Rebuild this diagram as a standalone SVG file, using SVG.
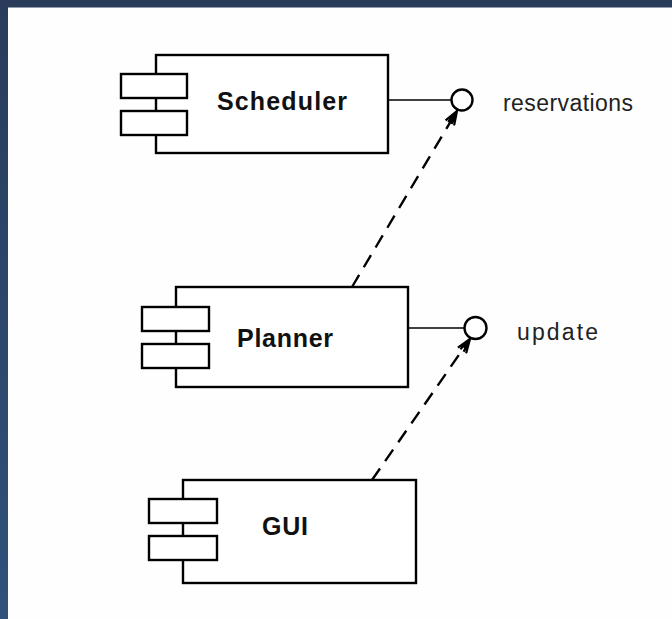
<svg xmlns="http://www.w3.org/2000/svg" width="672" height="619" viewBox="0 0 672 619">
  <defs>
    <linearGradient id="edgeGrad" x1="0" y1="0" x2="0" y2="1">
      <stop offset="0" stop-color="#293c5b"/>
      <stop offset="1" stop-color="#2f527b"/>
    </linearGradient>
    <marker id="openArrow" viewBox="0 0 16 12" refX="15" refY="6" markerWidth="16" markerHeight="12" markerUnits="userSpaceOnUse" orient="auto">
      <path d="M1,1 L15,6 L1,11 M1,4 L15,6 L1,8" fill="none" stroke="#000" stroke-width="2.2"/>
    </marker>
    <style>
      .box { fill: #fff; stroke: #000; stroke-width: 2.4; }
      .port { fill: #fff; stroke: #000; stroke-width: 2.4; }
      .lollipop { fill: none; stroke: #000; stroke-width: 1.6; }
      .ball { fill: #fff; stroke: #000; stroke-width: 2.4; }
      .dep { fill: none; stroke: #000; stroke-width: 2.4; stroke-dasharray: 14 9; }
      .name { font-family: "Liberation Sans", Arial, sans-serif; font-weight: bold; font-size: 25px; fill: #111; }
      .iface { font-family: "Liberation Sans", Arial, sans-serif; font-size: 23px; fill: #222; }
    </style>
  </defs>

  <!-- page background and frame -->
  <rect x="0" y="0" width="672" height="619" fill="#fefefe"/>
  <rect x="0" y="0" width="672" height="7.5" fill="#293c5a"/>
  <rect x="0" y="0" width="8" height="619" fill="url(#edgeGrad)"/>

  <!-- dependency connectors -->
  <g id="connectors">
    <line class="lollipop" x1="388" y1="100" x2="451" y2="100"/>
    <line class="lollipop" x1="408" y1="328" x2="464" y2="328"/>
    <line class="dep" x1="352" y1="287" x2="457" y2="111" marker-end="url(#openArrow)"/>
    <line class="dep" x1="372" y1="480" x2="470" y2="339" marker-end="url(#openArrow)"/>
  </g>

  <!-- provided interfaces -->
  <g id="iface-reservations">
    <circle class="ball" cx="462" cy="100" r="10.5"/>
    <text class="iface" x="503" y="111" textLength="130" lengthAdjust="spacing">reservations</text>
  </g>
  <g id="iface-update">
    <circle class="ball" cx="475.5" cy="328" r="11"/>
    <text class="iface" x="517" y="340" textLength="81" lengthAdjust="spacing">update</text>
  </g>

  <!-- components -->
  <g id="scheduler">
    <rect class="box" x="156" y="55" width="232" height="98"/>
    <rect class="port" x="121" y="74" width="66" height="24"/>
    <rect class="port" x="121" y="111" width="66" height="24"/>
    <text class="name" x="217" y="110" textLength="130" lengthAdjust="spacing">Scheduler</text>
  </g>
  <g id="planner">
    <rect class="box" x="176" y="287" width="232" height="100"/>
    <rect class="port" x="142" y="307" width="67" height="24"/>
    <rect class="port" x="142" y="344" width="67" height="24"/>
    <text class="name" x="237" y="347" textLength="96" lengthAdjust="spacing">Planner</text>
  </g>
  <g id="gui">
    <rect class="box" x="183" y="480" width="233" height="103"/>
    <rect class="port" x="149" y="499" width="68" height="24"/>
    <rect class="port" x="149" y="536" width="68" height="24"/>
    <text class="name" x="262" y="535" textLength="46" lengthAdjust="spacing">GUI</text>
  </g>
</svg>
